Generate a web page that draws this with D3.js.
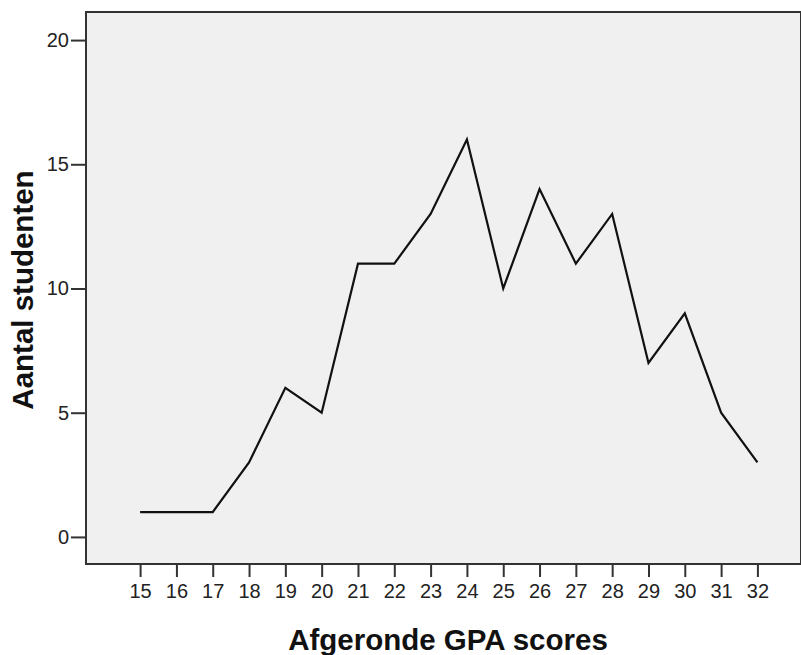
<!DOCTYPE html>
<html>
<head>
<meta charset="utf-8">
<script src="https://cdn.jsdelivr.net/npm/d3@7"></script>
<style>
  body { margin: 0; background: #fff; }
  svg { display: block; font-family: Arial, "Liberation Sans", sans-serif; }
</style>
</head>
<body>
<svg id="drawing_region"></svg>
<script>
// afgeronde GPA scores en aantal studenten
const scores = [15, 16, 17, 18, 19, 20, 21, 22, 23, 24, 25, 26, 27, 28, 29, 30, 31, 32];
const counts = [1, 1, 1, 3, 6, 5, 11, 11, 13, 16, 10, 14, 11, 13, 7, 9, 5, 3];
const yTicks = [0, 5, 10, 15, 20];

const width = 801;
const height = 655;
const plot = { left: 86, top: 12, right: 801, bottom: 564 };

const svg = d3.select('#drawing_region')
    .attr('width', width)
    .attr('height', height);

const xscale = d3.scaleLinear()
    .domain([13.51, 33.2])
    .range([plot.left, plot.right]);

const yscale = d3.scaleLinear()
    .domain([-1.09, 21.13])
    .range([plot.bottom, plot.top]);

// plot background
svg.append('rect')
    .attr('x', plot.left)
    .attr('y', plot.top)
    .attr('width', plot.right - plot.left)
    .attr('height', plot.bottom - plot.top)
    .attr('fill', '#f0f0f0')
    .attr('stroke', '#333')
    .attr('stroke-width', 2);

const xaxis = svg.append('g')
    .attr('transform', `translate(0, ${plot.bottom})`)
    .call(d3.axisBottom(xscale).tickValues(scores).tickSize(13).tickPadding(7).tickSizeOuter(0));

const yaxis = svg.append('g')
    .attr('transform', `translate(${plot.left}, 0)`)
    .call(d3.axisLeft(yscale).tickValues(yTicks).tickSize(15).tickPadding(2).tickSizeOuter(0));

[xaxis, yaxis].forEach(ax => {
    ax.select('.domain').remove();
    ax.selectAll('line').attr('stroke', '#333').attr('stroke-width', 2);
    ax.selectAll('text')
        .attr('fill', '#222')
        .attr('font-size', '20px')
        .attr('font-family', 'Arial, "Liberation Sans", sans-serif');
});

const line = d3.line()
    .x((d, i) => xscale(scores[i]))
    .y(d => yscale(d));

svg.append('path')
    .datum(counts)
    .attr('d', line)
    .attr('fill', 'none')
    .attr('stroke', '#111')
    .attr('stroke-width', 2.2)
    .attr('stroke-linejoin', 'miter');

svg.append('text')
    .attr('x', 448)
    .attr('y', 650)
    .attr('text-anchor', 'middle')
    .attr('font-size', '29.5px')
    .attr('font-weight', 'bold')
    .attr('fill', '#111')
    .text('Afgeronde GPA scores');

svg.append('text')
    .attr('transform', 'rotate(-90)')
    .attr('x', -290)
    .attr('y', 33)
    .attr('text-anchor', 'middle')
    .attr('font-size', '29.5px')
    .attr('font-weight', 'bold')
    .attr('fill', '#111')
    .text('Aantal studenten');
</script>
</body>
</html>
